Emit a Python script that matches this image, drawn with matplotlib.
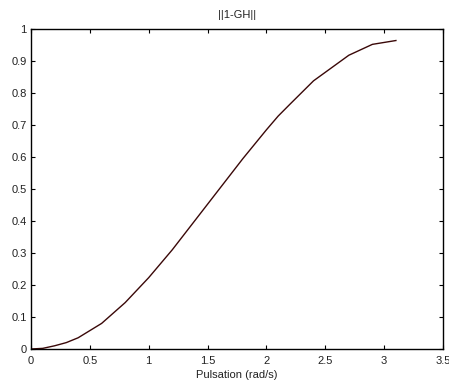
import matplotlib
matplotlib.use("Agg")
import matplotlib.pyplot as plt

pulsation = [0, 0.1, 0.2, 0.3, 0.4, 0.6, 0.8, 1.0, 1.2, 1.4, 1.6, 1.8, 2.0, 2.1, 2.2, 2.4, 2.7, 2.9, 3.1]
norm_1_gh = [0, 0.002, 0.01, 0.02, 0.035, 0.08, 0.145, 0.223, 0.31, 0.405, 0.5, 0.595, 0.685, 0.728, 0.765, 0.838, 0.918, 0.952, 0.964]
xticks = [0, 0.5, 1, 1.5, 2, 2.5, 3, 3.5]
yticks = [0, 0.1, 0.2, 0.3, 0.4, 0.5, 0.6, 0.7, 0.8, 0.9, 1]

plt.rcParams['font.family'] = ['Liberation Sans', 'DejaVu Sans']
fig = plt.figure(figsize=(4.49, 3.85), dpi=100)
ax = fig.add_axes([31/449, 36/385, 412/449, 320/385])
ax.plot(pulsation, norm_1_gh, color='#3a0808', linewidth=1.0)
ax.set_xlim(0, 3.5)
ax.set_ylim(0, 1)
ax.set_xticks(xticks)
ax.set_xticklabels([f"{t:g}" for t in xticks])
ax.set_yticks(yticks)
ax.set_yticklabels([f"{t:g}" for t in yticks])
ax.tick_params(direction='in', top=True, right=True, labelsize=8, length=3, width=0.8, pad=3,
               labelcolor='#222222')
ax.tick_params(axis='x', pad=5)
for s in ax.spines.values():
    s.set_linewidth(1.0)
ax.set_title("||1-GH||", fontsize=8, pad=8, color='#222222')
ax.set_xlabel("Pulsation (rad/s)", fontsize=8, labelpad=3, color='#222222')
fig.savefig("out.png", dpi=100)
